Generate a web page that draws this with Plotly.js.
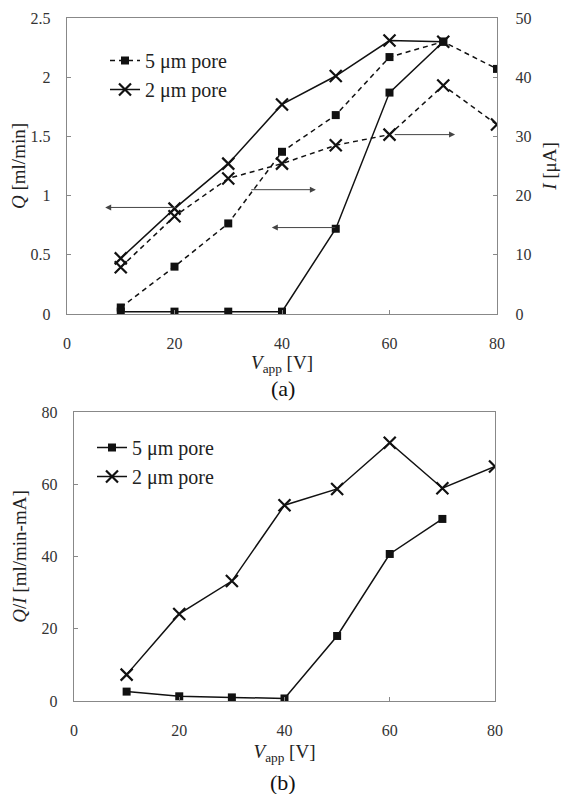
<!DOCTYPE html>
<html><head><meta charset="utf-8">
<script src="https://cdn.plot.ly/plotly-3.0.1.min.js"></script>
<style>html,body{margin:0;padding:0;background:#fff}#chart{width:568px;height:794px}</style>
</head><body><div id="chart"></div>
<script>
// Data
const vApp = [10, 20, 30, 40, 50, 60, 70, 80];
const vAppQ = [10, 20, 30, 40, 50, 60, 70];
const q5 = [0.02, 0.02, 0.02, 0.02, 0.72, 1.87, 2.30];
const i5 = [1.1, 8.0, 15.3, 27.4, 33.6, 43.4, 46.0, 41.4];
const q2 = [0.47, 0.89, 1.27, 1.77, 2.01, 2.31, 2.30];
const i2 = [7.9, 16.5, 22.9, 25.4, 28.5, 30.3, 38.6, 32.0];
const ratio5 = [2.6, 1.3, 1.0, 0.7, 18.0, 40.7, 50.4];
const ratio2 = [7.3, 24.1, 33.2, 54.2, 58.7, 71.5, 58.9, 64.9];
const seriesNames = ['5 μm pore', '2 μm pore'];

const FONT = '"Times New Roman", "Liberation Serif", "DejaVu Serif", serif';
const INK = '#111';
const AX = '#888';
const sq = {symbol: 'square', size: 8, color: INK};
const xm = {symbol: 'x-thin', size: 12, line: {width: 2.2, color: INK}, color: INK};

const traces = [
  {x: vApp, y: i5, name: seriesNames[0], xaxis: 'x', yaxis: 'y2', mode: 'lines+markers',
   line: {color: INK, width: 1.5, dash: '5px,4px'}, marker: sq, legend: 'legend'},
  {x: vAppQ, y: q2, name: seriesNames[1], xaxis: 'x', yaxis: 'y', mode: 'lines+markers',
   line: {color: INK, width: 1.5}, marker: xm, legend: 'legend'},
  {x: vAppQ, y: q5, name: seriesNames[0], xaxis: 'x', yaxis: 'y', mode: 'lines+markers',
   line: {color: INK, width: 1.5}, marker: sq, showlegend: false},
  {x: vApp, y: i2, name: seriesNames[1], xaxis: 'x', yaxis: 'y2', mode: 'lines+markers',
   line: {color: INK, width: 1.5, dash: '5px,4px'}, marker: xm, showlegend: false},
  {x: vAppQ, y: ratio5, name: seriesNames[0], xaxis: 'x2', yaxis: 'y3', mode: 'lines+markers',
   line: {color: INK, width: 1.5}, marker: sq, legend: 'legend2'},
  {x: vApp, y: ratio2, name: seriesNames[1], xaxis: 'x2', yaxis: 'y3', mode: 'lines+markers',
   line: {color: INK, width: 1.5}, marker: xm, legend: 'legend2'}
];

const tickFont = {family: FONT, size: 16, color: '#333'};
const titleFont = {family: FONT, size: 19, color: '#222'};
const baseAx = {showline: true, linecolor: AX, linewidth: 1.2, ticks: 'inside', ticklen: 4,
  tickcolor: AX, showgrid: false, zeroline: false, tickfont: tickFont, automargin: false};

function arrow(hx, hy, tx, ty) {
  return {x: hx, y: hy, ax: tx, ay: ty, xref: 'x', yref: 'y', axref: 'x', ayref: 'y',
    text: '', showarrow: true, arrowhead: 2, arrowsize: 1.2, arrowwidth: 1, arrowcolor: '#444'};
}

const layout = {
  width: 568, height: 794,
  margin: {l: 0, r: 0, t: 0, b: 0},
  paper_bgcolor: '#fff', plot_bgcolor: '#fff',
  font: {family: FONT, color: '#222'},
  xaxis: Object.assign({}, baseAx, {domain: [67/568, 497/568], anchor: 'y', range: [0, 80],
    dtick: 20, mirror: true, ticklabelstandoff: 15,
    title: {text: '<i>V</i><sub>app</sub> [V]', font: titleFont, standoff: 1}}),
  yaxis: Object.assign({}, baseAx, {domain: [1 - 314/794, 1 - 18/794], anchor: 'x', range: [0, 2.5],
    dtick: 0.5, ticklabelstandoff: 12,
    title: {text: '<i>Q</i> [ml/min]', font: titleFont, standoff: 0}}),
  yaxis2: Object.assign({}, baseAx, {overlaying: 'y', side: 'right', anchor: 'x', range: [0, 50],
    dtick: 10, ticklabelstandoff: 14,
    title: {text: '<i>I</i> [μA]', font: titleFont, standoff: 12}}),
  xaxis2: Object.assign({}, baseAx, {domain: [74/568, 495/568], anchor: 'y3', range: [0, 80],
    dtick: 20, mirror: true, ticklabelstandoff: 15,
    title: {text: '<i>V</i><sub>app</sub> [V]', font: titleFont, standoff: 6}}),
  yaxis3: Object.assign({}, baseAx, {domain: [1 - 701/794, 1 - 412/794], anchor: 'x2', range: [0, 80],
    dtick: 20, mirror: true, ticklabelstandoff: 12,
    title: {text: '<i>Q</i>/<i>I</i> [ml/min-mA]', font: titleFont, standoff: 10}}),
  legend: {x: 105/568, y: 1 - 41/794, xanchor: 'left', yanchor: 'top', bgcolor: 'rgba(0,0,0,0)',
    font: {family: FONT, size: 20, color: '#222'}, itemwidth: 30, tracegroupgap: 0},
  legend2: {x: 92/568, y: 1 - 428/794, xanchor: 'left', yanchor: 'top', bgcolor: 'rgba(0,0,0,0)',
    font: {family: FONT, size: 20, color: '#222'}, itemwidth: 30, tracegroupgap: 0},
  annotations: [
    arrow(7.1, 0.90, 20.6, 0.90),
    arrow(46.3, 1.05, 34.0, 1.05),
    arrow(38.1, 0.73, 50.2, 0.73),
    arrow(72.2, 1.515, 60.7, 1.515),
    {text: '(a)', xref: 'paper', yref: 'paper', x: 283/568, y: 1 - 388/794, showarrow: false,
     xanchor: 'center', yanchor: 'middle', font: {family: FONT, size: 22, color: '#111'}},
    {text: '(b)', xref: 'paper', yref: 'paper', x: 283/568, y: 1 - 782/794, showarrow: false,
     xanchor: 'center', yanchor: 'middle', font: {family: FONT, size: 22, color: '#111'}}
  ]
};

Plotly.newPlot('chart', traces, layout, {displayModeBar: false, staticPlot: true});
</script></body></html>
